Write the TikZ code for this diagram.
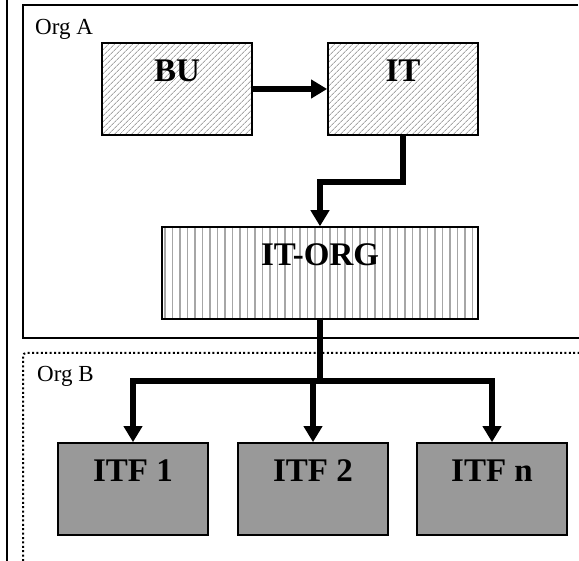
\documentclass[tikz,border=0pt]{standalone}
\usepackage{fontspec}
\setmainfont{Liberation Serif}
\usetikzlibrary{arrows.meta,patterns.meta}

\tikzset{
  unit/.style={draw, line width=1.7pt, inner sep=0pt, text height=39pt, text depth=53pt,
    font=\fontsize{33}{40}\selectfont\bfseries},
  hatchbox/.style={unit, minimum width=150pt,
    pattern={Lines[angle=45,distance=4pt,line width=0.9pt]}, pattern color=black!35},
  stripebox/.style={unit, minimum width=316pt,
    pattern={Lines[angle=90,distance=7.5pt,line width=1.5pt]}, pattern color=black!35},
  itfbox/.style={unit, minimum width=150pt, fill=black!40},
  flow/.style={line width=5.5pt, -{Triangle[length=16pt,width=18pt]}},
  orglabel/.style={anchor=base west, inner sep=0pt, font=\fontsize{23}{28}\selectfont},
  frame/.style={line width=2pt}
}

\begin{document}
\begin{tikzpicture}[x=1pt, y=-1pt]
\useasboundingbox (0,0) rectangle (579,561);

\draw[frame] (7,0) -- (7,561);
\draw[frame] (578,5) -- (23,5) -- (23,338) -- (579,338);
\draw[frame, dash pattern=on 2pt off 2.4pt, rounded corners=3pt] (23,561) -- (23,353) -- (579,353);

\node[orglabel] (orga) at (35,35) {Org A};
\node[orglabel] (orgb) at (37,382) {Org B};

\node[hatchbox] (bu) at (177,89) {BU};
\node[hatchbox] (it) at (403,89) {IT};
\node[stripebox] (itorg) at (320,273) {IT-ORG};

\foreach \n/\x in {1/133,2/313,n/492}
{\node[itfbox] (itf\n) at (\x,489) {ITF \n};}

\draw[flow] (bu.east) -- (it.west);
\draw[flow] (it.south) -- ++(0,46) -| (itorg.north);

\coordinate (split) at (320,381);
\draw[line width=5.5pt] (itorg.south) -- ([yshift=2.7pt]split);
\foreach \n in {1,2,n}
{\draw[flow] (split) -| (itf\n.north);}
\end{tikzpicture}
\end{document}
